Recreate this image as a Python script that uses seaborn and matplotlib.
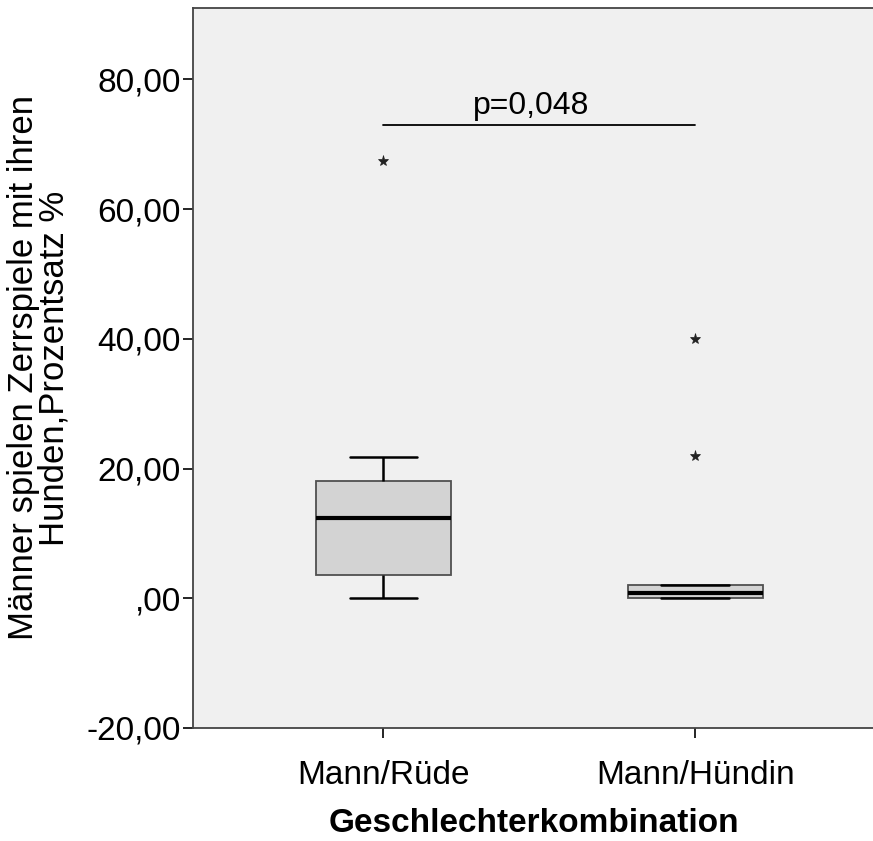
import matplotlib
matplotlib.use("Agg")
import matplotlib.pyplot as plt
import seaborn as sns
import pandas as pd

categories = ["Mann/Rüde", "Mann/Hündin"]
values_ruede = [0.0, 2.0, 3.6, 8.0, 12.4, 15.5, 18.1, 21.7, 67.4]
values_huendin = [0.0, 0.0, 0.0, 0.4, 0.8, 1.4, 2.0, 22.0, 40.0]
yticks = [-20, 0, 20, 40, 60, 80]
ytick_labels = ["-20,00", ",00", "20,00", "40,00", "60,00", "80,00"]
p_text = "p=0,048"
p_y = 72.9

df = pd.DataFrame({
    "group": [categories[0]] * len(values_ruede) + [categories[1]] * len(values_huendin),
    "value": values_ruede + values_huendin,
})

sns.set_theme(style="white")
plt.rcParams["font.family"] = ["Liberation Sans", "DejaVu Sans"]
plt.rcParams["text.color"] = "black"
plt.rcParams["axes.labelcolor"] = "black"

fig = plt.figure(figsize=(8.73, 8.41), dpi=100)
ax = fig.add_axes([0.221, 0.1344, 0.781, 0.8561])
ax.set_facecolor("#f0f0f0")

sns.boxplot(
    data=df, x="group", y="value", order=categories, ax=ax,
    width=0.434, whis=1.5, color="#d3d3d3", saturation=1,
    boxprops=dict(facecolor="#d3d3d3", edgecolor="#505050", linewidth=1.3),
    medianprops=dict(color="black", linewidth=3),
    whiskerprops=dict(color="black", linewidth=1.8),
    capprops=dict(color="black", linewidth=1.8),
    capwidths=0.217,
    flierprops=dict(marker="*", markersize=8, markerfacecolor="#222222",
                    markeredgecolor="#222222", markeredgewidth=0.5),
)

ax.set_xlim(-0.611, 1.576)
ax.set_ylim(-20, 91)
ax.set_yticks(yticks)
ax.set_yticklabels(ytick_labels)
ax.tick_params(axis="both", labelsize=24, colors="black", length=7.2, width=1.2,
               direction="out", left=True, bottom=True)
ax.tick_params(axis="x", pad=16)
ax.tick_params(axis="y", pad=1.5)
for s in ["left", "bottom", "top", "right"]:
    ax.spines[s].set_color("#444444")
    ax.spines[s].set_linewidth(1.3)
ax.spines["right"].set_visible(False)

ax.plot([0, 1], [p_y, p_y], color="black", linewidth=1.3)
ax.text(0.473, 74.6, p_text, ha="center", va="baseline", fontsize=23, color="black")

ax.set_xlabel("Geschlechterkombination", fontsize=24, fontweight="bold", labelpad=12,
              color="black")
ax.set_ylabel("Männer spielen Zerrspiele mit ihren\nHunden,Prozentsatz %", fontsize=25,
              linespacing=0.9, color="black")
ax.yaxis.set_label_coords(-0.18, 0.5)

fig.savefig("out.png", dpi=100, facecolor="white")
